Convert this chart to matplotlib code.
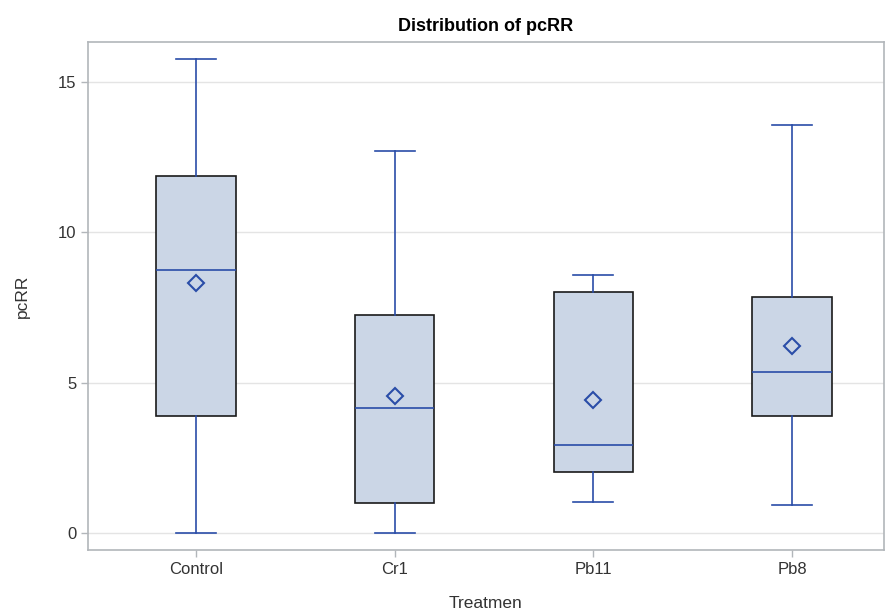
import matplotlib
matplotlib.use("Agg")
import matplotlib.pyplot as plt

# Summary stats
treatments = ["Control", "Cr1", "Pb11", "Pb8"]
whisk_lo = [0.0, 0.0, 1.03, 0.93]
q1 = [3.89, 1.0, 2.03, 3.89]
median = [8.75, 4.16, 2.93, 5.35]
mean = [8.31, 4.56, 4.42, 6.22]
q3 = [11.87, 7.25, 8.01, 7.85]
whisk_hi = [15.76, 12.70, 8.58, 13.57]
yticks = [0, 5, 10, 15]

plt.rcParams["font.family"] = ["Liberation Sans", "DejaVu Sans"]

LINE = "#2a4da8"
FILL = "#cbd6e6"
FRAME = "#b2b6ba"

stats = []
for i, name in enumerate(treatments):
    stats.append({
        "label": name, "whislo": whisk_lo[i], "q1": q1[i], "med": median[i],
        "mean": mean[i], "q3": q3[i], "whishi": whisk_hi[i], "fliers": [],
    })

fig = plt.figure(figsize=(8.86, 6.10), dpi=100)
ax = fig.add_axes([0.0993, 0.0984, 0.8984, 0.8326])

pos = list(range(len(treatments)))
ax.bxp(stats, positions=pos, widths=0.40, capwidths=0.20, showmeans=True,
       patch_artist=True,
       boxprops=dict(facecolor=FILL, edgecolor="#1a1a1a", linewidth=1.2),
       medianprops=dict(color=LINE, linewidth=1.2),
       whiskerprops=dict(color=LINE, linewidth=1.2),
       capprops=dict(color=LINE, linewidth=1.2),
       meanprops=dict(marker="D", markerfacecolor="none", markeredgecolor=LINE,
                      markeredgewidth=1.5, markersize=8),
       zorder=3)

ax.set_xlim(-0.544, 3.463)
ax.set_ylim(-0.565, 16.33)
ax.set_xticks(pos)
ax.set_xticklabels(treatments)
ax.set_yticks(yticks)
ax.yaxis.grid(True, color="#e4e4e4", linewidth=1.0, zorder=0)
ax.set_axisbelow(True)

for sp in ax.spines.values():
    sp.set_color(FRAME)
    sp.set_linewidth(1.2)
ax.tick_params(axis="both", colors=FRAME, labelcolor="#333333", labelsize=12,
               length=5, width=1)

ax.set_xlabel("Treatmen", fontsize=12.5, color="#333333", labelpad=14)
ax.set_ylabel("pcRR", fontsize=12.5, color="#333333", labelpad=20)
ax.set_title("Distribution of pcRR", fontsize=13, fontweight="bold", pad=8)

fig.savefig("out.png", dpi=100)
